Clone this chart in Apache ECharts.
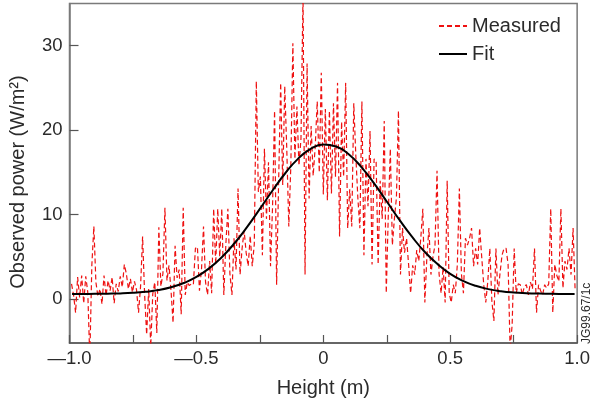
<!DOCTYPE html>
<html>
<head>
<meta charset="utf-8">
<script src="https://cdn.jsdelivr.net/npm/echarts@6/dist/echarts.min.js"></script>
<style>
html,body{margin:0;padding:0;background:#fff;}
#c{width:593px;height:403px;}
</style>
</head>
<body>
<div id="c"></div>
<script>
// Measured samples: heights (m) and observed power (W/m^2)
const measuredX = [
-0.992,-0.984,-0.976,-0.968,-0.960,-0.952,-0.944,-0.936,-0.928,-0.920,
-0.912,-0.904,-0.896,-0.888,-0.880,-0.872,-0.864,-0.856,-0.848,-0.840,
-0.832,-0.824,-0.816,-0.808,-0.800,-0.792,-0.784,-0.776,-0.768,-0.760,
-0.752,-0.744,-0.736,-0.728,-0.720,-0.712,-0.704,-0.696,-0.688,-0.680,
-0.672,-0.664,-0.656,-0.648,-0.640,-0.632,-0.624,-0.616,-0.608,-0.600,
-0.592,-0.584,-0.576,-0.568,-0.560,-0.552,-0.544,-0.536,-0.528,-0.520,
-0.512,-0.504,-0.496,-0.488,-0.480,-0.472,-0.464,-0.456,-0.448,-0.440,
-0.432,-0.424,-0.416,-0.408,-0.400,-0.392,-0.384,-0.376,-0.368,-0.360,
-0.352,-0.344,-0.336,-0.328,-0.320,-0.312,-0.304,-0.296,-0.288,-0.280,
-0.272,-0.264,-0.256,-0.248,-0.240,-0.232,-0.224,-0.216,-0.208,-0.200,
-0.192,-0.184,-0.176,-0.168,-0.160,-0.152,-0.144,-0.136,-0.128,-0.120,
-0.112,-0.104,-0.096,-0.088,-0.080,-0.072,-0.064,-0.056,-0.048,-0.040,
-0.032,-0.024,-0.016,-0.008,0.000,0.008,0.016,0.024,0.032,0.040,
0.048,0.056,0.064,0.072,0.080,0.088,0.096,0.104,0.112,0.120,
0.128,0.136,0.144,0.152,0.160,0.168,0.176,0.184,0.192,0.200,
0.208,0.216,0.224,0.232,0.240,0.248,0.256,0.264,0.272,0.280,
0.288,0.296,0.304,0.312,0.320,0.328,0.336,0.344,0.352,0.360,
0.368,0.376,0.384,0.392,0.400,0.408,0.416,0.424,0.432,0.440,
0.448,0.456,0.464,0.472,0.480,0.488,0.496,0.504,0.512,0.520,
0.528,0.536,0.544,0.552,0.560,0.568,0.576,0.584,0.592,0.600,
0.608,0.616,0.624,0.632,0.640,0.648,0.656,0.664,0.672,0.680,
0.688,0.696,0.704,0.712,0.720,0.728,0.736,0.744,0.752,0.760,
0.768,0.776,0.784,0.792,0.800,0.808,0.816,0.824,0.832,0.840,
0.848,0.856,0.864,0.872,0.880,0.888,0.896,0.904,0.912,0.920,
0.928,0.936,0.944,0.952,0.960,0.968,0.976,0.984,0.992
];
const measuredY = [
1.8,0.5,-1.6,2.6,0.2,2.8,-0.5,2.7,0.8,-7.0,
4.0,8.6,2.0,0.3,1.2,-0.6,2.8,0.4,2.2,1.0,
2.6,-0.5,1.8,0.9,2.7,1.4,4.1,3.0,1.2,2.4,
0.8,2.1,1.1,-1.6,1.5,7.4,0.5,-4.2,1.2,-5.6,
0.6,2.0,-4.0,8.5,1.5,3.0,10.8,2.2,4.0,1.0,
-2.8,6.3,2.5,3.5,-1.8,10.8,0.5,2.0,1.6,1.8,
1.7,6.0,6.2,1.0,3.5,8.6,2.0,0.5,4.5,0.7,
10.7,4.1,10.7,5.0,10.7,0.5,6.5,10.7,3.0,0.5,
7.2,3.5,13.1,2.9,6.0,8.1,5.5,3.9,7.5,3.9,
6.5,25.8,12.7,14.5,5.2,17.8,9.5,16.2,3.9,11.0,
22.3,1.7,14.0,25.6,13.5,25.2,17.8,8.6,15.8,30.3,
16.6,22.8,15.8,19.0,36.0,2.9,27.9,11.9,20.5,14.6,
18.0,23.4,15.0,26.8,12.4,22.5,11.7,22.3,12.5,23.2,
14.5,25.6,7.4,21.0,14.5,25.6,8.4,13.0,8.6,23.2,
17.0,12.0,8.4,23.4,5.2,16.6,11.0,19.9,4.1,16.6,
16.4,4.1,14.0,9.5,21.1,0.7,10.0,17.8,6.4,9.5,
12.0,22.3,2.9,8.4,5.5,7.2,4.1,0.7,4.0,2.9,
5.8,4.5,7.2,10.7,-0.4,5.0,8.4,2.9,5.0,6.4,
15.2,3.0,0.7,3.8,-0.4,14.0,0.7,-0.4,1.7,0.7,
4.1,13.1,3.0,0.7,7.2,6.4,7.2,8.4,3.9,6.0,
4.1,8.4,5.0,1.7,-0.4,2.1,6.0,-0.2,-2.6,6.0,
0.5,3.0,5.2,6.0,6.0,4.1,-6.0,-3.0,6.0,0.7,
1.8,1.7,0.5,1.5,1.7,0.5,2.0,1.2,6.0,-1.6,
1.7,1.0,0.5,1.7,1.3,1.8,10.7,-1.6,4.1,2.8,
2.1,10.7,1.3,4.5,3.5,6.0,2.9,8.4,1.1
];
// Fit curve
const fitX = [-0.99,-0.95,-0.90,-0.85,-0.80,-0.75,-0.70,-0.65,-0.60,-0.55,-0.50,-0.45,-0.40,-0.35,-0.30,-0.25,-0.20,-0.15,-0.10,-0.05,0.00,0.05,0.10,0.15,0.20,0.25,0.30,0.35,0.40,0.45,0.50,0.55,0.60,0.65,0.70,0.75,0.80,0.85,0.90,0.95,0.99];
const fitY = [0.60,0.61,0.62,0.64,0.67,0.74,0.87,1.07,1.40,1.90,2.62,3.64,4.96,6.61,8.55,10.68,12.86,14.90,16.60,17.78,18.29,18.07,17.15,15.63,13.70,11.55,9.38,7.36,5.57,4.14,2.99,2.16,1.57,1.18,0.93,0.78,0.70,0.65,0.62,0.61,0.60];
// Axis ticks and labels
const xTicks = [-1.0,-0.75,-0.5,-0.25,0,0.25,0.5,0.75,1.0];
const xTickLabels = {"-1":"\u20141.0","-0.5":"\u20140.5","0":"0","0.5":"0.5","1":"1.0"};
const yTicks = [0,10,20,30];
const seriesNames = ["Measured","Fit"];
const xTitle = "Height (m)";
const yTitle = "Observed power (W/m\u00b2)";
const figId = "JG99.67/1c";

const FONT = "Liberation Sans, Arial, sans-serif";
const TXT = "#2b2b2b";

const chart = echarts.init(document.getElementById('c'), null, {renderer:'canvas'});
chart.setOption({
  animation:false,
  backgroundColor:'#fff',
  textStyle:{fontFamily:FONT},
  grid:{left:69.5,right:14,top:3.5,bottom:58,show:true,borderColor:'#7a7a7a',borderWidth:1.5,containLabel:false},
  legend:{
    orient:'vertical', left:433, top:11, itemWidth:28, itemHeight:14, itemGap:8,
    textStyle:{fontSize:20,color:TXT,fontFamily:FONT},
    itemStyle:{opacity:0},
    data:seriesNames
  },
  xAxis:{
    type:'value', min:-1, max:1, interval:0.25,
    name:xTitle, nameLocation:'middle', nameGap:35,
    nameTextStyle:{fontSize:20,color:TXT,fontFamily:FONT},
    axisLine:{show:true,onZero:false,lineStyle:{color:'#555',width:1.5}},
    axisTick:{show:true,inside:true,length:8,lineStyle:{color:'#555',width:1.2},customValues:xTicks},
    axisLabel:{fontSize:18.5,color:TXT,margin:6,fontFamily:FONT,
      formatter:function(v){const k=String(Math.round(v*100)/100);return xTickLabels[k]!==undefined?xTickLabels[k]:'';}},
    splitLine:{show:false}
  },
  yAxis:{
    type:'value', min:-5.2, max:35,
    axisLine:{show:true,onZero:false,lineStyle:{color:'#7a7a7a',width:1.5}},
    axisTick:{show:true,inside:true,length:9,lineStyle:{color:'#555',width:1.2},customValues:yTicks},
    axisLabel:{fontSize:18.5,color:TXT,margin:7,fontFamily:FONT,customValues:yTicks},
    splitLine:{show:false}
  },
  graphic:[{
    type:'text', x:581, y:344, rotation:Math.PI/2,
    style:{text:figId, fontSize:12, fill:TXT, fontFamily:FONT, align:'left', verticalAlign:'top'}
  },{
    type:'text', x:18, y:182, rotation:Math.PI/2,
    style:{text:yTitle, fontSize:20, fill:TXT, fontFamily:FONT, align:'center', verticalAlign:'middle'}
  }],
  series:[
    {name:seriesNames[0], type:'line', symbol:'none', clip:true,
     data:measuredX.map((x,i)=>[x,measuredY[i]]),
     lineStyle:{color:'#ee1111',width:1.2,type:[5,3]}, itemStyle:{color:'#ee1111'}, z:2},
    {name:seriesNames[1], type:'line', symbol:'none', smooth:true, clip:true,
     data:fitX.map((x,i)=>[x,fitY[i]]),
     lineStyle:{color:'#000',width:2}, itemStyle:{color:'#000'}, z:3}
  ]
});
</script>
</body>
</html>
